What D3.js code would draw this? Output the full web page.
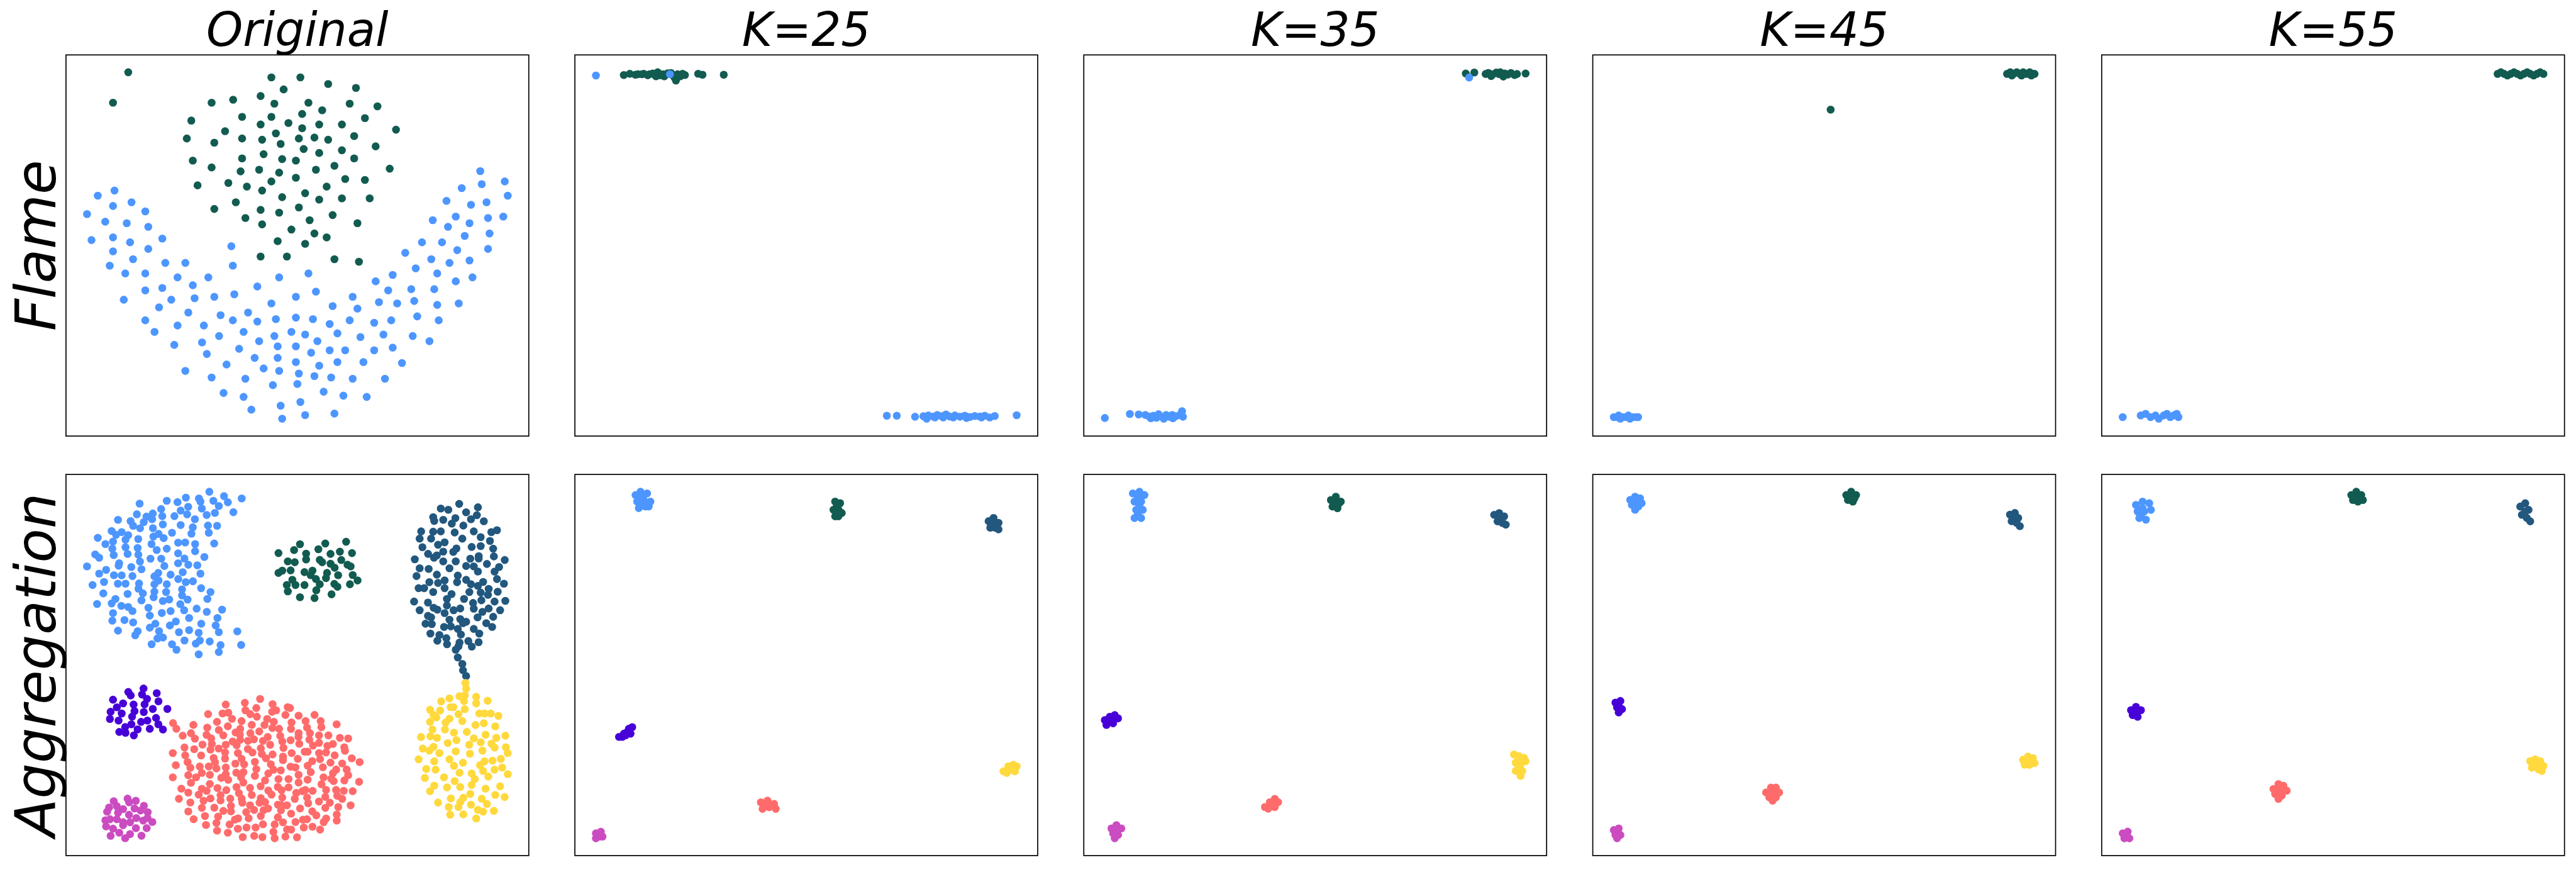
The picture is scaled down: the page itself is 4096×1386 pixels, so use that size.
<!DOCTYPE html>
<html><head><meta charset="utf-8">
<script src="https://cdn.jsdelivr.net/npm/d3@7"></script>
<style>body{margin:0;background:#fff;overflow:hidden}</style></head>
<body><svg id="c" width="4096" height="1386"></svg>
<script>
// ---------- labels ----------
const colTitles = ["Original", "K=25", "K=35", "K=45", "K=55"];
const rowTitles = ["Flame", "Aggregation"];

// ---------- colours ----------
const cLightBlue = "#4D96FF", cDarkGreen = "#125B50", cNavy = "#22577E",
      cRed = "#FF6B6B", cYellow = "#FFD93D", cPurple = "#4700D8", cPink = "#CB4CC0";

// ---------- Flame, original (coordinates, y grows downward) ----------
const flameOrigGreen = [[222,83],[171,207],[701,104],[798,104],[891,131],[984,147],[742,153],[665,180],[573,195],[501,207],[711,211],[825,207],[963,211],[1056,222],[871,238],[804,253],[701,265],[603,265],[433,280],[1014,270],[758,290],[665,296],[861,296],[937,296],[804,311],[1118,317],[546,323],[716,332],[418,353],[603,353],[670,358],[793,353],[845,349],[891,358],[978,343],[510,370],[732,375],[1050,385],[809,396],[937,401],[861,412],[675,417],[438,443],[603,434],[737,437],[783,443],[978,434],[501,471],[912,464],[598,487],[660,480],[727,492],[850,480],[1097,476],[783,513],[948,518],[1014,522],[454,544],[557,534],[619,549],[701,528],[886,549],[670,565],[814,576],[737,592],[861,602],[937,597],[1030,597],[582,613],[510,640],[665,644],[727,655],[793,634],[614,677],[670,703],[829,686],[906,665],[989,698],[768,724],[845,740],[886,756],[722,771],[814,782],[665,834],[753,834],[912,845],[994,855]];
const flameOrigBlue = [[176,565],[120,586],[233,613],[171,628],[279,650],[84,661],[145,692],[217,698],[289,713],[99,767],[171,756],[228,776],[336,761],[171,813],[289,803],[238,845],[160,871],[212,903],[279,903],[346,860],[413,860],[567,792],[572,871],[387,919],[490,919],[279,972],[336,962],[438,951],[207,1010],[366,1010],[444,1004],[510,998],[577,988],[654,956],[727,919],[825,903],[850,977],[783,998],[701,1025],[325,1041],[423,1062],[531,1073],[623,1062],[279,1094],[387,1115],[475,1115],[572,1094],[654,1099],[716,1089],[783,1083],[840,1089],[310,1141],[526,1158],[608,1141],[711,1158],[768,1141],[814,1152],[376,1194],[469,1184],[660,1179],[722,1200],[783,1200],[855,1179],[485,1231],[593,1210],[645,1247],[722,1247],[834,1226],[896,1216],[948,1216],[551,1274],[675,1290],[727,1300],[783,1264],[861,1279],[922,1264],[413,1300],[501,1327],[614,1332],[793,1311],[845,1321],[901,1327],[973,1332],[706,1358],[788,1353],[541,1390],[608,1406],[876,1385],[942,1401],[1020,1406],[634,1458],[732,1442],[798,1427],[737,1495],[814,1480],[912,1474],[1009,1264],[1045,1216],[1107,1205],[1138,1268],[1081,1332],[999,1162],[1076,1152],[922,1147],[896,1109],[963,1094],[1045,1104],[1102,1094],[1174,1158],[1230,1179],[906,1036],[989,1046],[973,998],[1061,1020],[1122,1025],[1179,1015],[1256,1031],[1328,1025],[1189,1078],[1261,1094],[1050,935],[1107,909],[1092,972],[1169,967],[1246,967],[1149,819],[1184,882],[1256,903],[1236,845],[1205,776],[1272,776],[1318,935],[1374,919],[1297,860],[1364,850],[1323,808],[1348,750],[1426,803],[1241,686],[1292,713],[1318,671],[1364,698],[1431,740],[1426,677],[1477,671],[1287,607],[1369,623],[1421,613],[1338,555],[1405,539],[1400,486],[1482,528],[1492,586]];

// ---------- Flame, embeddings ----------
const flameK25Green = [[168,103],[186,98],[203,102],[210,100],[222,100],[228,98],[240,104],[245,100],[255,97],[262,103],[265,108],[270,92],[278,104],[285,100],[290,108],[300,96],[310,95],[315,103],[320,112],[325,125],[330,100],[338,108],[345,98],[352,103],[392,98],[405,102],[469,102]];
const flameK25Blue = [[84,105],[307,100],[960,1463],[990,1463],[1045,1467],[1070,1465],[1080,1475],[1085,1462],[1100,1466],[1105,1470],[1112,1460],[1125,1465],[1130,1470],[1138,1458],[1150,1466],[1160,1470],[1165,1462],[1180,1467],[1195,1463],[1200,1472],[1210,1468],[1225,1464],[1240,1466],[1245,1470],[1255,1463],[1270,1470],[1285,1464],[1351,1461]];
const flameK35Green = [[1272,100],[1300,96],[1337,102],[1345,98],[1350,100],[1355,110],[1360,104],[1372,96],[1380,102],[1385,95],[1392,106],[1395,112],[1400,100],[1410,104],[1420,98],[1432,106],[1440,102],[1468,100]];
const flameK35Blue = [[1283,116],[89,1467],[171,1451],[200,1453],[222,1455],[235,1462],[240,1468],[248,1458],[258,1466],[265,1452],[270,1460],[282,1470],[290,1455],[300,1462],[310,1455],[312,1468],[322,1460],[335,1455],[342,1440],[345,1462]];
const flameK45Green = [[1116,66],[1225,44],[1227,43],[1228,45],[1229,44],[1231,43],[1233,44],[1234,45],[1235,43],[1237,44],[1239,43],[1240,45],[1241,44],[1242,44]];
const flameK45Blue = [[982,255],[984,255],[985,254],[986,256],[988,255],[990,255],[991,254],[992,256],[994,255],[996,255],[997,255]];
const flameK55Green = [[1522,44],[1524,43],[1526,44],[1528,45],[1530,44],[1532,43],[1534,44],[1536,45],[1538,44],[1540,43],[1542,44],[1544,45],[1546,44],[1548,43],[1550,44]];
const flameK55Blue = [[1293,255],[1304,254],[1307,253],[1310,255],[1313,254],[1315,256],[1318,254],[1320,253],[1322,255],[1324,254],[1326,253],[1327,255]];

// ---------- Aggregation, original: each group read in its own crop (origin + value/3) ----------
const aggOrigLightBlue = {origin:[230,1400], pts:[[1125,57],[1252,95],[1405,115],[922,108],[1035,115],[757,135],[850,147],[1160,135],[1048,142],[1285,148],[522,160],[942,187],[1207,180],[1060,202],[708,207],[877,220],[1333,234],[1173,240],[498,252],[636,245],[581,272],[718,268],[823,268],[933,253],[1102,258],[630,295],[335,300],[444,311],[558,320],[1000,295],[723,340],[877,345],[1113,350],[1192,352],[466,352],[526,373],[637,372],[982,365],[280,397],[367,406],[318,430],[423,433],[686,422],[641,445],[802,412],[970,420],[1120,412],[160,456],[510,466],[400,472],[730,458],[292,489],[226,510],[855,498],[916,496],[1002,510],[1167,505],[625,510],[400,538],[505,544],[286,550],[757,550],[670,562],[1002,572],[855,590],[138,600],[172,628],[298,605],[418,596],[511,602],[616,637],[709,637],[910,635],[1082,622],[525,661],[345,676],[340,697],[67,703],[855,676],[943,689],[1021,694],[736,700],[450,709],[538,728],[232,733],[172,766],[300,780],[367,781],[460,787],[683,760],[650,790],[790,775],[895,754],[1048,766],[115,865],[214,838],[334,853],[400,853],[517,851],[686,826],[650,858],[757,858],[856,813],[921,840],[983,832],[512,897],[550,937],[208,937],[418,942],[650,922],[751,925],[889,902],[1054,892],[1135,925],[643,970],[889,955],[538,998],[313,985],[280,1024],[154,1029],[723,1003],[778,990],[937,991],[1108,985],[364,1045],[423,1055],[460,1090],[598,1062],[874,1030],[907,1083],[1015,1069],[1103,1097],[1235,1078],[292,1108],[714,1107],[790,1090],[610,1129],[950,1150],[1195,1150],[286,1173],[391,1168],[466,1188],[658,1200],[835,1180],[1055,1200],[1180,1215],[784,1215],[610,1234],[335,1260],[505,1265],[484,1300],[690,1265],[862,1273],[950,1255],[1033,1278],[1207,1273],[1367,1266],[676,1327],[724,1320],[910,1345],[1043,1345],[1008,1372],[1128,1354],[626,1378],[802,1378],[1222,1385],[1400,1384],[841,1425],[1207,1445],[1033,1465]]};
const aggOrigRedA = {origin:[478,1995], pts:[[820,67],[688,100],[523,115],[787,145],[693,165],[495,192],[545,185],[370,198],[735,198],[792,220],[577,238],[447,265],[660,258],[67,276],[243,291],[541,303],[748,291],[96,325],[363,315],[648,325],[463,336],[222,363],[608,357],[736,363],[813,348],[151,385],[357,377],[502,382],[645,375],[256,410],[397,408],[648,420],[583,435],[715,430],[767,416],[845,430],[322,462],[403,456],[523,463],[617,467],[166,487],[250,501],[391,505],[462,496],[714,500],[826,494],[65,535],[517,530],[628,535],[754,530],[835,543],[172,555],[310,556],[418,578],[517,583],[660,585],[193,613],[430,614],[606,627],[775,612],[91,640],[682,633],[217,662],[298,651],[376,651],[442,668],[523,660],[787,674],[614,705],[676,700],[316,707],[199,727],[65,745],[266,745],[386,723],[484,750],[523,718],[544,767],[655,745],[775,733],[222,793],[385,803],[675,790],[139,843],[316,845],[358,862],[451,838],[528,856],[616,830],[733,837],[825,823],[199,877],[289,895],[637,883],[748,898],[118,931],[391,928],[478,900],[562,930],[661,930],[217,963],[331,948],[478,945],[666,965],[826,925],[815,965],[199,1041],[316,1010],[424,1008],[502,1036],[568,993],[568,1040],[733,988],[768,1028],[700,1047],[245,1108],[343,1080],[457,1086],[602,1112],[630,1101],[721,1100],[826,1080],[352,1158],[442,1140],[556,1153],[628,1191],[703,1180],[781,1180],[845,1152],[448,1207],[541,1225],[670,1263],[769,1252],[840,1263],[850,1030]]};
const aggOrigRedB = {origin:[760,1995], pts:[[82,112],[213,138],[233,145],[78,178],[113,165],[193,205],[307,211],[445,205],[35,240],[93,265],[246,270],[367,258],[498,258],[636,286],[12,292],[80,318],[138,325],[241,326],[380,315],[504,311],[307,362],[405,363],[306,395],[484,382],[565,382],[148,386],[40,396],[664,403],[736,409],[166,435],[238,424],[400,419],[313,455],[484,447],[61,463],[432,470],[556,473],[604,456],[702,485],[176,490],[708,515],[360,523],[385,523],[484,535],[544,530],[247,535],[82,547],[619,555],[172,565],[172,597],[25,580],[300,585],[767,580],[835,613],[425,605],[493,588],[583,618],[684,625],[67,632],[385,645],[237,653],[280,660],[517,658],[632,678],[723,678],[90,680],[153,685],[45,712],[412,700],[604,710],[736,727],[307,723],[523,745],[133,760],[220,760],[17,772],[385,766],[307,790],[589,758],[610,778],[703,772],[830,784],[505,805],[127,828],[220,832],[160,857],[45,860],[287,880],[340,865],[365,855],[428,862],[545,855],[631,855],[697,862],[775,865],[73,895],[166,920],[380,920],[274,932],[538,915],[641,905],[684,932],[17,960],[483,955],[577,965],[390,970],[128,982],[206,988],[155,985],[757,988],[43,1015],[320,1015],[538,1010],[650,1003],[155,1030],[425,1040],[242,1060],[460,1075],[637,1068],[128,1092],[172,1135],[280,1132],[345,1112],[380,1108],[545,1102],[524,1133],[637,1120],[100,1153],[352,1180],[427,1173],[493,1198],[207,1197],[243,1198],[89,1218],[100,1273],[193,1258],[293,1264]]};
const aggOrigNavy = {origin:[1175,1440], pts:[[451,42],[292,82],[357,93],[613,72],[511,115],[604,140],[226,157],[235,190],[313,180],[418,165],[553,175],[664,192],[387,213],[487,230],[122,280],[226,283],[292,280],[412,290],[577,280],[729,286],[778,270],[109,343],[208,343],[478,343],[637,330],[717,363],[325,375],[268,396],[133,417],[559,415],[637,408],[745,430],[427,428],[400,458],[313,455],[182,475],[258,488],[233,508],[620,495],[620,515],[751,497],[67,522],[547,517],[313,540],[421,540],[845,528],[691,562],[511,580],[577,583],[613,628],[109,600],[187,605],[367,600],[796,589],[757,628],[82,667],[258,655],[439,663],[433,720],[511,700],[553,738],[658,718],[613,752],[325,705],[268,727],[193,720],[778,693],[838,733],[100,772],[148,772],[325,772],[226,805],[539,805],[637,810],[706,778],[700,830],[784,803],[385,823],[345,865],[493,865],[61,888],[181,897],[571,900],[643,877],[757,888],[850,882],[345,922],[230,942],[262,958],[109,963],[403,963],[460,948],[577,950],[706,948],[652,977],[805,963],[325,988],[181,1012],[208,1025],[367,1045],[460,1040],[511,1063],[484,1075],[610,1025],[745,1020],[160,1080],[214,1083],[320,1108],[379,1103],[439,1125],[685,1075],[736,1108],[577,1125],[202,1165],[280,1177],[466,1173],[625,1165],[262,1227],[340,1205],[346,1258],[454,1243],[445,1275],[530,1230],[560,1278],[619,1240],[421,1305],[439,1372],[478,1428],[484,1483],[511,1533]]};
const aggOrigYellow = {origin:[1190,1950], pts:[[460,63],[466,112],[408,178],[455,170],[448,220],[553,183],[553,240],[652,217],[250,222],[322,196],[332,273],[355,273],[454,290],[154,295],[241,301],[400,333],[580,328],[626,328],[679,328],[745,348],[184,340],[208,362],[322,372],[289,405],[154,400],[433,393],[547,427],[619,412],[718,439],[175,466],[283,466],[361,493],[472,487],[634,511],[805,520],[76,531],[157,525],[214,538],[532,543],[727,538],[382,559],[307,583],[493,598],[592,577],[685,589],[712,623],[810,620],[91,631],[184,616],[148,649],[235,670],[376,655],[607,649],[499,676],[826,670],[55,724],[322,724],[190,742],[439,754],[586,775],[625,741],[694,736],[766,721],[121,808],[202,814],[361,781],[613,826],[712,814],[778,796],[826,853],[409,841],[514,847],[109,886],[274,880],[541,895],[658,874],[367,913],[190,952],[154,1000],[301,967],[415,964],[514,946],[634,979],[760,958],[502,1024],[718,1033],[799,1051],[334,1063],[442,1057],[415,1096],[601,1066],[223,1099],[316,1138],[400,1138],[508,1117],[646,1111],[568,1162],[613,1177],[706,1171],[328,1204],[442,1201],[553,1237]]};
const aggOrigGreen = {origin:[785,1545], pts:[[643,55],[463,70],[244,76],[193,127],[403,120],[589,141],[58,153],[297,158],[508,160],[694,153],[297,208],[415,212],[436,232],[601,213],[139,225],[199,232],[508,245],[544,280],[655,253],[682,268],[91,305],[58,325],[163,303],[283,318],[352,305],[337,345],[478,325],[469,370],[574,345],[700,343],[382,378],[178,384],[742,390],[130,430],[205,430],[283,430],[415,423],[541,420],[568,445],[676,423],[139,485],[385,475],[517,510],[244,535],[370,543]]};
const aggOrigPurple = {origin:[290,1965], pts:[[376,66],[244,96],[265,126],[490,106],[363,118],[112,163],[406,156],[505,177],[199,195],[290,205],[385,203],[145,229],[298,262],[456,243],[582,243],[91,268],[187,282],[378,270],[85,330],[277,310],[160,343],[484,321],[409,343],[355,355],[271,376],[217,400],[504,376],[325,420],[430,415],[544,421],[166,442],[220,450],[292,472]]};
const aggOrigPink = {origin:[290,1965], pts:[[238,1020],[118,1042],[309,1038],[252,1052],[78,1097],[145,1085],[379,1082],[199,1110],[298,1105],[61,1133],[155,1142],[350,1123],[412,1138],[250,1160],[86,1198],[145,1198],[46,1207],[313,1188],[410,1188],[373,1210],[452,1222],[199,1224],[260,1225],[52,1260],[199,1250],[112,1280],[310,1275],[403,1275],[166,1315],[91,1342],[259,1327],[358,1341],[217,1362]]};

// ---------- Aggregation, embeddings ----------
const aggK25 = {
  lightBlue:[[388,300],[391,298],[395,299],[389,304],[393,303],[397,304],[390,308],[394,307],[392,301],[396,307],[392,305],[390,302]],
  green:[[509,304],[512,305],[508,309],[511,309],[513,311],[509,313],[511,313],[510,307]],
  navy:[[602,316],[605,314],[608,317],[603,320],[606,320],[608,321],[605,318],[604,317]],
  purple:[[378,448],[381,446],[384,443],[386,442],[380,448],[383,445],[385,446],[382,447]],
  red:[[464,488],[468,487],[472,489],[465,492],[469,491],[473,492],[467,489],[470,490]],
  yellow:[[611,469],[614,466],[617,465],[619,466],[613,470],[616,468],[618,469],[615,467]],
  pink:[[364,507],[367,506],[366,509],[364,510],[368,509],[366,508]]};
const aggK35 = {
  lightBlue:[[690,299],[694,298],[697,300],[691,304],[695,304],[692,309],[696,309],[691,314],[695,314],[693,302],[694,307],[693,311]],
  green:[[810,303],[813,301],[816,304],[811,307],[814,308],[815,305],[813,305]],
  navy:[[909,312],[912,311],[915,313],[911,316],[914,317],[916,318],[913,314]],
  purple:[[673,437],[676,435],[679,434],[681,436],[674,440],[678,439],[677,437]],
  red:[[770,490],[773,487],[776,485],[778,487],[772,491],[776,490],[774,488]],
  yellow:[[921,458],[924,459],[927,460],[922,463],[925,464],[928,462],[922,468],[926,468],[925,471],[924,461],[924,466]],
  pink:[[677,503],[680,501],[683,503],[678,506],[681,507],[679,509],[680,505]]};
const aggK45 = {
  lightBlue:[[993,303],[996,301],[999,302],[994,306],[997,306],[1000,305],[996,309],[996,304],[998,307]],
  green:[[1125,300],[1128,298],[1131,300],[1126,303],[1129,304],[1130,302],[1128,301]],
  navy:[[1225,312],[1228,311],[1230,314],[1226,316],[1229,317],[1231,319],[1228,314]],
  purple:[[984,427],[987,426],[985,430],[988,431],[986,433],[986,429]],
  red:[[1076,482],[1079,479],[1082,479],[1084,482],[1078,485],[1082,485],[1080,487],[1080,482]],
  yellow:[[1233,462],[1236,460],[1239,461],[1234,465],[1237,465],[1240,464],[1237,463]],
  pink:[[983,505],[986,504],[984,508],[987,508],[985,510],[985,506]]};
const aggK55 = {
  lightBlue:[[1302,306],[1306,304],[1310,305],[1303,310],[1307,310],[1311,309],[1304,314],[1308,315],[1306,308],[1305,312]],
  green:[[1432,300],[1435,298],[1438,300],[1433,303],[1436,304],[1439,303],[1435,301]],
  navy:[[1534,307],[1537,305],[1539,309],[1535,312],[1538,314],[1540,316],[1537,310]],
  purple:[[1299,431],[1302,429],[1305,431],[1300,434],[1303,435],[1302,432]],
  red:[[1385,479],[1388,476],[1391,477],[1393,480],[1386,482],[1390,483],[1388,485],[1389,480]],
  yellow:[[1540,462],[1543,461],[1546,462],[1548,465],[1541,466],[1545,467],[1547,468],[1544,464]],
  pink:[[1294,506],[1297,505],[1295,509],[1298,509],[1296,507]]};

// ---------- layout ----------
const W = 4096, H = 1386;
const panelW = 735.9, panelH = 605.8;
const colX = [104.9, 914.1, 1723.3, 2532.6, 3341.8];
const rowY = [87.3, 754.1];
const dotR = 6.3;
const fontFam = "'DejaVu Sans', Verdana, sans-serif";

const svg = d3.select("#c");
svg.append("rect").attr("width", W).attr("height", H).attr("fill", "#fff");

function fromCrop(g) { return g.pts.map(p => [g.origin[0] + p[0] / 3, g.origin[1] + p[1] / 3]); }

function panel(col, row, groups) {
  const all = groups.flatMap(g => g.pts);
  const xe = d3.extent(all, d => d[0]), ye = d3.extent(all, d => d[1]);
  const px = (xe[1] - xe[0]) * 0.05, py = (ye[1] - ye[0]) * 0.05;
  const x = d3.scaleLinear().domain([xe[0] - px, xe[1] + px]).range([0, panelW]);
  const y = d3.scaleLinear().domain([ye[0] - py, ye[1] + py]).range([0, panelH]);
  const g = svg.append("g").attr("transform", `translate(${colX[col]},${rowY[row]})`);
  const clipId = `clip${col}_${row}`;
  g.append("clipPath").attr("id", clipId).append("rect").attr("width", panelW).attr("height", panelH);
  const inner = g.append("g").attr("clip-path", `url(#${clipId})`);
  groups.forEach(gr => {
    inner.append("g").selectAll("circle").data(gr.pts).join("circle")
      .attr("cx", d => x(d[0])).attr("cy", d => y(d[1])).attr("r", dotR).attr("fill", gr.color);
  });
  g.append("rect").attr("width", panelW).attr("height", panelH)
    .attr("fill", "none").attr("stroke", "#000").attr("stroke-width", 1.7);
}

// Flame row
panel(0, 0, [{color:cDarkGreen, pts:flameOrigGreen}, {color:cLightBlue, pts:flameOrigBlue}]);
panel(1, 0, [{color:cDarkGreen, pts:flameK25Green}, {color:cLightBlue, pts:flameK25Blue}]);
panel(2, 0, [{color:cDarkGreen, pts:flameK35Green}, {color:cLightBlue, pts:flameK35Blue}]);
panel(3, 0, [{color:cDarkGreen, pts:flameK45Green}, {color:cLightBlue, pts:flameK45Blue}]);
panel(4, 0, [{color:cDarkGreen, pts:flameK55Green}, {color:cLightBlue, pts:flameK55Blue}]);

// Aggregation row
panel(0, 1, [
  {color:cLightBlue, pts:fromCrop(aggOrigLightBlue)},
  {color:cRed, pts:fromCrop(aggOrigRedA).concat(fromCrop(aggOrigRedB))},
  {color:cNavy, pts:fromCrop(aggOrigNavy)},
  {color:cYellow, pts:fromCrop(aggOrigYellow)},
  {color:cDarkGreen, pts:fromCrop(aggOrigGreen)},
  {color:cPurple, pts:fromCrop(aggOrigPurple)},
  {color:cPink, pts:fromCrop(aggOrigPink)}]);
[aggK25, aggK35, aggK45, aggK55].forEach((k, i) => panel(i + 1, 1, [
  {color:cLightBlue, pts:k.lightBlue}, {color:cRed, pts:k.red}, {color:cNavy, pts:k.navy},
  {color:cYellow, pts:k.yellow}, {color:cDarkGreen, pts:k.green}, {color:cPurple, pts:k.purple},
  {color:cPink, pts:k.pink}]));

// titles
colTitles.forEach((t, i) => {
  svg.append("text").attr("x", colX[i] + panelW / 2).attr("y", 73)
    .attr("text-anchor", "middle").attr("font-family", fontFam).attr("font-style", "italic")
    .attr("font-size", 74).attr("fill", "#000").text(t);
});
rowTitles.forEach((t, i) => {
  const cy = rowY[i] + panelH / 2;
  svg.append("text").attr("transform", `translate(88,${cy}) rotate(-90)`)
    .attr("text-anchor", "middle").attr("font-family", fontFam).attr("font-style", "italic")
    .attr("font-size", 89).attr("fill", "#000").text(t);
});
</script>
</body></html>
